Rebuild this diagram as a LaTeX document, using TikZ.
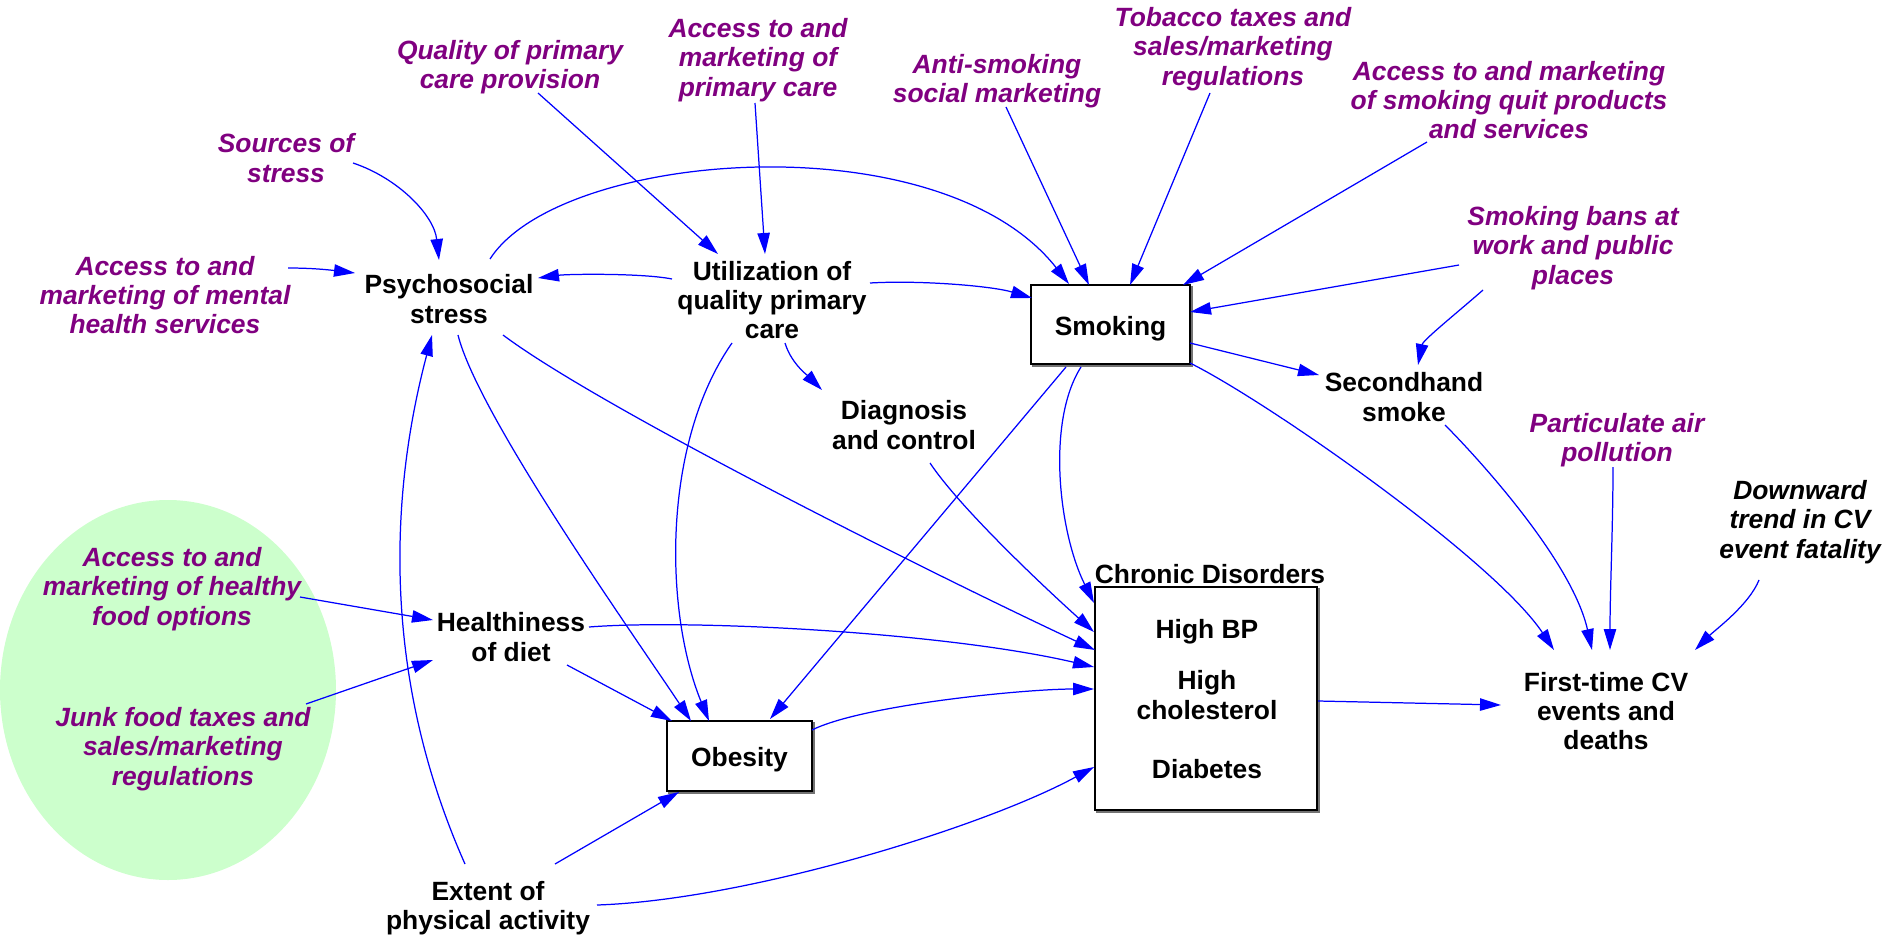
\documentclass[tikz,border=0pt]{standalone}
\usepackage{fontspec}
\setmainfont{Liberation Sans}
\usetikzlibrary{arrows.meta,calc}
\definecolor{plum}{HTML}{800080}
\definecolor{arrowblue}{HTML}{0000FF}
\definecolor{mint}{HTML}{CCFFCC}

\begin{document}
\begin{tikzpicture}[x=0.5pt,y=-0.5pt,
  lbl/.style={font=\fontsize{13.2pt}{14.6pt}\selectfont\bfseries, align=center, inner sep=0pt},
  factor/.style={lbl, text=black},
  lever/.style={lbl, font=\fontsize{13.2pt}{14.6pt}\selectfont\bfseries\itshape, text=plum},
  trend/.style={lever, text=black},
  stockbox/.style={draw=black, line width=0.7pt, fill=white, inner sep=0pt},
  boxshade/.style={draw=black!55, line width=0.8pt},
  link/.style={draw=arrowblue, line width=0.62pt, -{Triangle[length=10.5pt,width=6.2pt]}}]

\useasboundingbox (0,0) rectangle (1895,937);

% policy group background
\fill[mint] (168,690) ellipse [x radius=168, y radius=190];

% boxed stocks
\node[stockbox, minimum width=79.5pt, minimum height=39.5pt] (smk) at (1110.5,324.5) {};
\node[factor] at ($(smk)+(0,4)$) {Smoking};
\node[stockbox, minimum width=111pt, minimum height=111.5pt] (chr) at (1206,698.5) {};
\node[factor] (chrlab) at (1210,574) {Chronic Disorders};
\node[factor] (hbp) at (1207,632) {High BP};
\node[factor] (hchol) at (1207,695) {High\\cholesterol};
\node[factor] (diab) at (1207,769) {Diabetes};
\node[stockbox, minimum width=72.5pt, minimum height=35pt] (obes) at (739.5,756) {};
\node[factor] at ($(obes)+(0,4)$) {Obesity};

% thin shading along the lower and right edges of the boxes
\foreach \b in {smk,chr,obes}
  \draw[boxshade] ($(\b.north east)+(1.5,2)$) -- ($(\b.south east)+(1.5,1.5)$) -- ($(\b.south west)+(2,1.5)$);

% intermediate variables
\node[factor] (psy) at (449,299) {Psychosocial\\stress};
\node[factor] (util) at (772,300) {Utilization of\\quality primary\\care};
\node[factor] (diag) at (904,425) {Diagnosis\\and control};
\node[factor] (sec) at (1404,397) {Secondhand\\smoke};
\node[factor] (heal) at (511,637) {Healthiness\\of diet};
\node[factor] (ext) at (488,908) {Extent of\\physical activity};
\node[factor] (cv) at (1606,711) {First-time CV\\events and\\deaths};

% policy levers and external drivers
\node[lever] (src) at (286,158) {Sources of\\stress};
\node[lever] (mental) at (165,295) {Access to and\\marketing of mental\\health services};
\node[lever] (qual) at (510,67) {Quality of primary\\care provision};
\node[lever] (accpc) at (758,60) {Access to and\\marketing of\\primary care};
\node[lever] (anti) at (997,81) {Anti-smoking\\social marketing};
\node[lever] (tob) at (1233,49) {Tobacco taxes and\\sales/marketing\\regulations};
\node[lever] (quit) at (1509,100) {Access to and marketing\\of smoking quit products\\and services};
\node[lever] (bans) at (1573,248) {Smoking bans at\\work and public\\places};
\node[lever] (partic) at (1617,440) {Particulate air\\pollution};
\node[trend] (down) at (1800,522) {Downward\\trend in CV\\event fatality};
\node[lever] (food) at (172,589) {Access to and\\marketing of healthy\\food options};
\node[lever] (junk) at (183,749) {Junk food taxes and\\sales/marketing\\regulations};

% causal links
\draw[link] ($(src)+(67,5)$) .. controls +(45,15) and +(-5,-45) .. ($(psy)+(-10,-39)$);
\draw[link] ($(mental)+(123,-27)$) .. controls +(25,0) and +(-25,-3) .. ($(psy)+(-94,-26)$);
\draw[link] ($(util)+(-100,-21)$) .. controls +(-30,-6) and +(30,-4) .. ($(psy)+(89,-21)$);
\draw[link] ($(psy)+(41,-40)$) .. controls +(70,-109) and +(-129,-164) .. ($(smk)+(-41.5,-40.5)$);
\draw[link] ($(util)+(98,-17)$) .. controls +(50,-3) and +(-40,-12) .. ($(smk)+(-78.5,-26.5)$);
\draw[link] ($(qual)+(28,26)$) -- ($(util)+(-54,-46)$);
\draw[link] ($(accpc)+(-3,43)$) -- ($(util)+(-7,-46)$);
\draw[link] ($(anti)+(9,26)$) -- ($(smk)+(-21.5,-39.5)$);
\draw[link] ($(tob)+(-23,44)$) -- ($(smk)+(19.5,-39.5)$);
\draw[link] ($(quit)+(-82,42)$) -- ($(smk)+(72.5,-39.5)$);
\draw[link] ($(bans)+(-114,17)$) -- ($(smk)+(79.5,-12.5)$);
\draw[link] ($(bans)+(-90,42)$) .. controls +(-25,22) and +(5,-25) .. ($(sec)+(14,-32)$);
\draw[link] ($(smk)+(79.5,18.5)$) -- ($(sec)+(-85,-22)$);
\draw[link] ($(util)+(13,43)$) .. controls +(6,20) and +(-15,-15) .. ($(diag)+(-82,-35)$);
\draw[link] ($(psy)+(9,36)$) .. controls +(20,80) and +(-60,-90) .. ($(obes)+(-48.5,-35)$);
\draw[link] ($(psy)+(54,36)$) .. controls +(100,75) and +(-150,-70) .. ($(chr)+(-111,-48.5)$);
\draw[link] ($(util)+(-40,43)$) .. controls +(-70,100) and +(-45,-110) .. ($(obes)+(-30.5,-35)$);
\draw[link] ($(smk)+(-44.5,42.5)$) -- ($(obes)+(30.5,-37)$);
\draw[link] ($(smk)+(-29.5,42.5)$) .. controls +(-35,55) and +(-35,-70) .. ($(chr)+(-112,-95.5)$);
\draw[link] ($(diag)+(26,38)$) .. controls +(30,45) and +(-50,-45) .. ($(chr)+(-112,-66.5)$);
\draw[link] ($(smk)+(79.5,38.5)$) .. controls +(80,40) and +(-60,-90) .. ($(cv)+(-52,-61)$);
\draw[link] ($(sec)+(41,28)$) .. controls +(30,30) and +(-20,-90) .. ($(cv)+(-14,-61)$);
\draw[link] ($(partic)+(-4,27)$) .. controls +(0,60) and +(0,-60) .. ($(cv)+(4,-61)$);
\draw[link] ($(down)+(-41,58)$) .. controls +(-10,25) and +(20,-20) .. ($(cv)+(89,-61)$);
\draw[link] ($(chr)+(112,2.5)$) -- ($(cv)+(-105,-6)$);
\draw[link] ($(food)+(128,8)$) -- ($(heal)+(-78,-17)$);
\draw[link] ($(junk)+(123,-45)$) -- ($(heal)+(-78,23)$);
\draw[link] ($(heal)+(56,28)$) -- ($(obes)+(-67.5,-35)$);
\draw[link] ($(heal)+(78,-10)$) .. controls +(100,-8) and +(-150,-35) .. ($(chr)+(-112,-31.5)$);
\draw[link] ($(ext)+(-23,-44)$) .. controls +(-80,-180) and +(-45,170) .. ($(psy)+(-17,36)$);
\draw[link] ($(ext)+(67,-44)$) -- ($(obes)+(-60.5,36)$);
\draw[link] ($(ext)+(109,-3)$) .. controls +(150,-5) and +(-110,60) .. ($(chr)+(-112,68.5)$);
\draw[link] ($(obes)+(72.5,-26)$) .. controls +(50,-25) and +(-70,0) .. ($(chr)+(-112,-9.5)$);

\end{tikzpicture}
\end{document}
